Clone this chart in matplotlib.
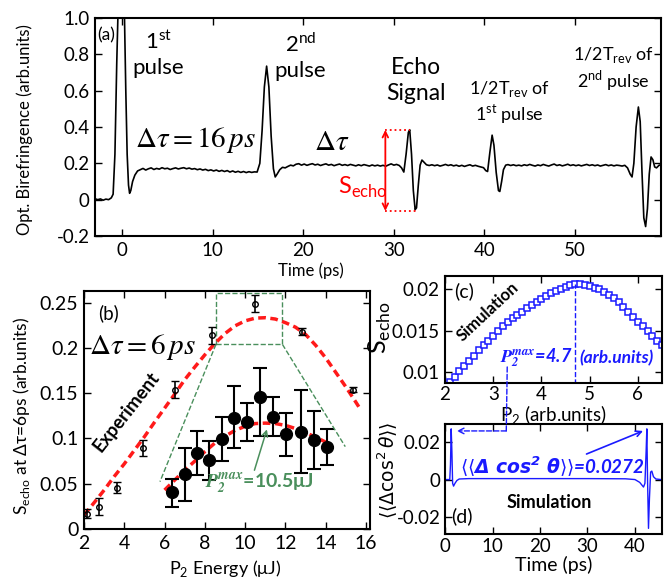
import matplotlib
matplotlib.use("Agg")
import matplotlib.pyplot as plt
from matplotlib.patches import Rectangle, ConnectionPatch

plt.rcParams['font.family'] = ['Lato', 'DejaVu Sans']
plt.rcParams['axes.linewidth'] = 1.5

# ---- panel (a): optical birefringence trace ----
t_a = [-3.0, -2.7, -2.4, -2.1, -1.8, -1.5, -1.2,
       -1.0, -0.8, -0.6, -0.45, -0.2, 0.0, 0.25, 0.4, 0.55, 0.7, 0.82, 0.95, 1.15, 1.4, 1.7, 2.0,
       2.3, 2.6, 2.9, 3.2, 3.5, 3.8, 4.1, 4.4, 4.7, 5.0, 5.3, 5.6, 5.9, 6.2, 6.5, 6.8, 7.1, 7.4,
       7.7, 8.0, 8.3, 8.6, 8.9, 9.2, 9.5, 9.8, 10.1, 10.4, 10.7, 11.0, 11.3, 11.6, 11.9, 12.2,
       12.5, 12.8, 13.1, 13.4, 13.7, 14.0, 14.3, 14.6, 14.9,
       15.2, 15.45, 15.7, 15.95, 16.2, 16.45, 16.7, 16.9, 17.1, 17.4, 17.7, 18.0,
       18.3, 18.6, 18.9, 19.2, 19.5, 19.8, 20.1, 20.4, 20.7, 21.0, 21.3, 21.6, 21.9, 22.2, 22.5,
       22.8, 23.1, 23.4, 23.7, 24.0, 24.3, 24.6, 24.9, 25.2, 25.5, 25.8, 26.1, 26.4, 26.7, 27.0,
       27.3, 27.6, 27.9, 28.2, 28.5, 28.8, 29.1, 29.4, 29.7, 30.0, 30.3, 30.6,
       30.85, 31.1, 31.35, 31.6, 31.75, 31.95, 32.15, 32.35, 32.5, 32.7, 32.9, 33.1, 33.35, 33.6, 33.9,
       34.2, 34.5, 34.8, 35.1, 35.4, 35.7, 36.0, 36.3, 36.6, 36.9, 37.2, 37.5, 37.8, 38.1, 38.4,
       38.7, 39.0, 39.3, 39.6, 39.9,
       40.15, 40.35, 40.6, 40.85, 41.05, 41.3, 41.55, 41.7, 41.9, 42.1, 42.35, 42.6,
       42.9, 43.2, 43.5, 43.8, 44.1, 44.4, 44.7, 45.0, 45.3, 45.6, 45.9, 46.2, 46.5, 46.8, 47.1,
       47.4, 47.7, 48.0, 48.3, 48.6, 48.9, 49.2, 49.5, 49.8, 50.1, 50.4, 50.7, 51.0, 51.3, 51.6,
       51.9, 52.2, 52.5, 52.8, 53.1, 53.4, 53.7, 54.0, 54.3, 54.6, 54.9, 55.2, 55.5, 55.8,
       56.1, 56.3, 56.5, 56.75, 57.0, 57.2, 57.4, 57.6, 57.8, 58.0, 58.2, 58.4, 58.6, 58.8, 59.0,
       59.3, 59.6]
v_a = [0.005, 0.000, 0.004, -0.003, 0.003, 0.000, 0.010,
       0.03, 0.25, 0.75, 1.05, 1.35, 1.35, 1.02, 0.6, 0.25, 0.08, 0.035, 0.05, 0.10, 0.135, 0.158, 0.165,
       0.172, 0.163, 0.170, 0.175, 0.166, 0.172, 0.168, 0.176, 0.170, 0.173, 0.166, 0.171, 0.175, 0.169,
       0.173, 0.176, 0.170, 0.174, 0.168, 0.171, 0.165, 0.169, 0.163, 0.167, 0.160, 0.164, 0.158, 0.163,
       0.156, 0.161, 0.155, 0.160, 0.152, 0.158, 0.151, 0.156, 0.150, 0.155, 0.149, 0.154, 0.150, 0.153,
       0.152,
       0.20, 0.38, 0.62, 0.735, 0.62, 0.35, 0.17, 0.125, 0.14, 0.165, 0.178, 0.175,
       0.183, 0.190, 0.186, 0.195, 0.198, 0.190, 0.196, 0.189, 0.194, 0.198, 0.191, 0.195, 0.188, 0.193,
       0.197, 0.190, 0.194, 0.187, 0.192, 0.196, 0.189, 0.193, 0.188, 0.194, 0.190, 0.186, 0.192, 0.187,
       0.193, 0.189, 0.185, 0.191, 0.186, 0.190, 0.185, 0.189, 0.184, 0.191, 0.197, 0.190, 0.194, 0.188,
       0.175, 0.152, 0.25, 0.37, 0.385, 0.25, 0.05, -0.055, -0.045, 0.08, 0.19, 0.218, 0.205, 0.192, 0.188,
       0.192, 0.187, 0.191, 0.185, 0.189, 0.194, 0.188, 0.192, 0.186, 0.190, 0.184, 0.189, 0.183, 0.188,
       0.192, 0.185, 0.189, 0.184, 0.180, 0.176,
       0.16, 0.155, 0.26, 0.355, 0.30, 0.15, 0.05, 0.045, 0.10, 0.165, 0.19, 0.193,
       0.188, 0.192, 0.187, 0.190, 0.186, 0.192, 0.188, 0.194, 0.189, 0.185, 0.191, 0.187, 0.194, 0.189,
       0.185, 0.191, 0.196, 0.188, 0.192, 0.186, 0.190, 0.195, 0.188, 0.192, 0.187, 0.191, 0.186, 0.190,
       0.194, 0.188, 0.192, 0.187, 0.191, 0.185, 0.189, 0.193, 0.187, 0.191, 0.186, 0.190, 0.188, 0.185,
       0.189, 0.175,
       0.14, 0.125, 0.20, 0.40, 0.51, 0.43, 0.15, -0.10, -0.148, -0.05, 0.14, 0.235, 0.22, 0.18, 0.175,
       0.19, 0.19]

# ---- panel (b): echo amplitude vs P2 energy ----
E_open = [2.17, 2.73, 3.63, 4.92, 6.5, 8.35, 10.5, 12.83, 15.33]
S_open = [0.0166, 0.0247, 0.0457, 0.0892, 0.154, 0.2139, 0.249, 0.218, 0.154]
S_open_err = [0.005, 0.009, 0.006, 0.0087, 0.0096, 0.009, 0.0096, 0.004, 0.003]
E_fit = [2.0, 2.5, 3.0, 3.5, 4.0, 4.5, 5.0, 5.5, 6.0, 6.5, 7.0, 7.5, 8.0, 8.5, 9.0, 9.5, 10.0,
         10.5, 11.0, 11.5, 12.0, 12.5, 13.0, 13.5, 14.0, 14.5, 15.0, 15.5, 15.7]
S_fit = [0.0155, 0.029, 0.043, 0.058, 0.072, 0.087, 0.102, 0.118, 0.1335, 0.149, 0.165, 0.179,
         0.1925, 0.205, 0.216, 0.2245, 0.230, 0.233, 0.2335, 0.232, 0.228, 0.223, 0.215, 0.203,
         0.189, 0.173, 0.157, 0.140, 0.133]
# zoomed view (drawn inside the same axes)
E_zoom = [6.38, 7.0, 7.6, 8.22, 8.83, 9.47, 10.1, 10.72, 11.38, 12.05, 12.75, 13.42, 14.08]
S_zoom = [0.0413, 0.0605, 0.0844, 0.0763, 0.0992, 0.1232, 0.118, 0.1464, 0.1236, 0.1048, 0.107,
          0.0984, 0.0904]
S_zoom_lo = [0.024, 0.0313, 0.0597, 0.0542, 0.0756, 0.0892, 0.0977, 0.1029, 0.1029, 0.0811,
             0.0623, 0.0664, 0.0708]
S_zoom_hi = [0.055, 0.0892, 0.1087, 0.0977, 0.1236, 0.1575, 0.139, 0.1778, 0.1457, 0.1287,
             0.1538, 0.1309, 0.1103]
E_zfit = [6.0, 6.5, 7.0, 7.5, 8.0, 8.5, 9.0, 9.5, 10.0, 10.5, 11.0, 11.5, 12.0, 12.5, 13.0,
          13.5, 14.0, 14.2]
S_zfit = [0.043, 0.054, 0.065, 0.075, 0.0855, 0.095, 0.1025, 0.109, 0.1135, 0.1165, 0.117,
          0.1165, 0.1145, 0.111, 0.1065, 0.1015, 0.096, 0.094]

# ---- panel (c): simulated echo vs P2 ----
P2_sim = [2.1, 2.2, 2.3, 2.4, 2.5, 2.6, 2.7, 2.8, 2.9, 3.0, 3.1, 3.2, 3.3, 3.4, 3.5, 3.6, 3.7,
          3.8, 3.9, 4.0, 4.1, 4.2, 4.3, 4.4, 4.5, 4.6, 4.7, 4.8, 4.9, 5.0, 5.1, 5.2, 5.3, 5.4,
          5.5, 5.6, 5.7, 5.8, 5.9, 6.0, 6.1, 6.2, 6.3, 6.4, 6.5]
S_sim = [0.0088, 0.0094, 0.0101, 0.0107, 0.0113, 0.0119, 0.0126, 0.0132, 0.0138, 0.0144, 0.0149,
         0.0155, 0.0160, 0.0165, 0.0169, 0.0173, 0.0177, 0.0181, 0.0185, 0.0188, 0.0192, 0.0195,
         0.0198, 0.0200, 0.0203, 0.0205, 0.0206, 0.0206, 0.0205, 0.0204, 0.0202, 0.0200, 0.0197,
         0.0193, 0.0189, 0.0184, 0.0179, 0.0173, 0.0167, 0.0161, 0.0155, 0.0150, 0.0144, 0.0138,
         0.0133]
P2_max = 4.7

# ---- panel (d): simulated alignment ----
t_d = [0.0, 1.0, 1.15, 1.3, 1.45, 1.6, 1.8, 2.1, 2.5, 3.0, 5.0, 10.0, 20.0, 30.0, 38.0, 40.0,
       41.0, 41.8, 42.1, 42.35, 42.5, 42.65, 42.85, 43.05, 43.3, 43.55, 43.9, 44.4, 45.5]
c_d = [0.0, 0.0, 0.008, 0.027, 0.015, -0.002, -0.0035, -0.002, -0.0005, 0.0003, 0.0005, 0.0005,
       0.0005, 0.0005, 0.0004, 0.0, -0.0015, -0.004, -0.002, 0.015, 0.027, 0.0, -0.026, -0.01,
       0.004, 0.0045, 0.0015, 0.0003, 0.0]

red = '#ff1a1a'
green = '#4a8f5c'
blue = '#1a1aff'


def box(ax):
    ax.tick_params(direction='in', top=True, right=True, length=5, width=1, pad=4)


fig = plt.figure(figsize=(6.7, 5.82), dpi=100)
ax_a = fig.add_axes([0.1418, 0.5945, 0.8448, 0.3746])
ax_b = fig.add_axes([0.1254, 0.0911, 0.4269, 0.4089])
ax_c = fig.add_axes([0.6642, 0.3419, 0.3239, 0.1838])
ax_d = fig.add_axes([0.6642, 0.0825, 0.3239, 0.189])

# (a)
ax_a.plot(t_a, v_a, color='k', lw=1.2)
ax_a.set_xlim(-3, 59.5)
ax_a.set_ylim(-0.2, 1.0)
ax_a.set_xticks([0, 10, 20, 30, 40, 50])
ax_a.set_yticks([-0.2, 0, 0.2, 0.4, 0.6, 0.8, 1.0])
ax_a.set_yticklabels(['-0.2', '0', '0.2', '0.4', '0.6', '0.8', '1.0'])
box(ax_a)
ax_a.tick_params(labelsize=13.5)
ax_a.set_xlabel('Time (ps)', fontsize=12, va='center')
ax_a.xaxis.set_label_coords(0.382, -0.16)
ax_a.set_ylabel('Opt. Birefringence (arb.units)', fontsize=12, va='center')
ax_a.yaxis.set_label_coords(-0.124, 0.49)
ax_a.text(-2.8, 0.905, '(a)', fontsize=12.5, va='center')
ax_a.text(4.0, 0.8, '1$^{\\mathregular{st}}$\npulse', fontsize=16, ha='center', va='center',
          linespacing=1.3)
ax_a.text(19.7, 0.785, '2$^{\\mathregular{nd}}$\npulse', fontsize=16, ha='center', va='center',
          linespacing=1.3)
ax_a.text(32.4, 0.655, 'Echo\nSignal', fontsize=16.5, ha='center', va='center', linespacing=1.3)
ax_a.text(42.8, 0.535, '1/2T$_{\\mathregular{rev}}$ of\n1$^{\\mathregular{st}}$ pulse', fontsize=13,
          ha='center', va='center', linespacing=1.2)
ax_a.text(54.2, 0.72, '1/2T$_{\\mathregular{rev}}$ of\n2$^{\\mathregular{nd}}$ pulse', fontsize=13,
          ha='center', va='center', linespacing=1.2)
ax_a.text(8.1, 0.33, r'$\Delta\tau = 16\,ps$', fontsize=21, ha='center', va='center',
          math_fontfamily='stix')
ax_a.text(23.1, 0.315, r'$\Delta\tau$', fontsize=21, ha='center', va='center', math_fontfamily='stix')
ax_a.annotate('', xy=(29.06, 0.384), xytext=(29.06, -0.062),
              arrowprops=dict(arrowstyle='<->', color='red', lw=1.3, shrinkA=0, shrinkB=0))
ax_a.plot([29.06, 31.8], [0.384, 0.384], color='red', ls=':', lw=1.3)
ax_a.plot([29.06, 32.5], [-0.062, -0.062], color='red', ls=':', lw=1.3)
ax_a.text(23.8, 0.07, 'S$_{\\mathregular{echo}}$', color='red', fontsize=17, va='center')

# (b)
ax_b.plot(E_fit, S_fit, color=red, lw=2.5, dashes=(2.2, 1.3))
ax_b.errorbar(E_open, S_open, yerr=S_open_err, fmt='o', ms=4, mfc='none', mec='k', mew=1,
              ecolor='k', elinewidth=1.2, capsize=3, capthick=1.2)
ax_b.plot(E_zfit, S_zfit, color=red, lw=2.5, dashes=(2.2, 1.3))
zoom_err = [[s - lo for s, lo in zip(S_zoom, S_zoom_lo)], [hi - s for s, hi in zip(S_zoom, S_zoom_hi)]]
ax_b.errorbar(E_zoom, S_zoom, yerr=zoom_err, fmt='o', ms=8.5, color='k', ecolor='k',
              elinewidth=1.5, capsize=5, capthick=1.5)
ax_b.add_patch(Rectangle((8.55, 0.204), 3.3, 0.057, fill=False, ec=green, lw=1, ls='--'))
ax_b.plot([8.55, 5.77], [0.204, 0.0523], color=green, lw=1, ls='--')
ax_b.plot([11.85, 14.97], [0.204, 0.091], color=green, lw=1, ls='--')
ax_b.set_xlim(2, 16.2)
ax_b.set_ylim(0, 0.263)
ax_b.set_xticks([2, 4, 6, 8, 10, 12, 14, 16])
ax_b.set_yticks([0, 0.05, 0.1, 0.15, 0.2, 0.25])
ax_b.set_yticklabels(['0', '0.05', '0.1', '0.15', '0.2', '0.25'])
box(ax_b)
ax_b.tick_params(labelsize=14)
ax_b.set_xlabel('P$_{\\mathregular{2}}$ Energy (μJ)', fontsize=13, va='center')
ax_b.xaxis.set_label_coords(0.493, -0.165)
ax_b.set_ylabel('S$_{\\mathregular{echo}}$ at Δτ=6ps (arb.units)', fontsize=12.5, va='center')
ax_b.yaxis.set_label_coords(-0.22, 0.475)
ax_b.text(3.2, 0.239, '(b)', fontsize=13.5, ha='center', va='center')
ax_b.text(4.9, 0.201, r'$\Delta\tau = 6\,ps$', fontsize=21, ha='center', va='center',
          math_fontfamily='stix')
ax_b.text(4.13, 0.13, 'Experiment', fontsize=13.5, fontweight='bold', rotation=52,
          ha='center', va='center')
ax_b.annotate('', xy=(11.12, 0.113), xytext=(10.42, 0.062),
              arrowprops=dict(arrowstyle='->', color=green, lw=1.1))
ax_b.text(10.7, 0.051, r'$\mathbfit{P_2^{max}}$=10.5μJ', color=green, fontsize=14,
          fontweight='bold', ha='center', va='center', math_fontfamily='stix')

# (c)
ax_c.plot(P2_sim, S_sim, ls='none', marker='s', ms=4, mfc='white', mec=blue, mew=1.1)
ax_c.plot([P2_max, P2_max], [0.0086, S_sim[P2_sim.index(P2_max)]], color=blue, ls='--', lw=1)
ax_c.set_xlim(2, 6.5)
ax_c.set_ylim(0.00866, 0.0216)
ax_c.set_xticks([2, 3, 4, 5, 6])
ax_c.set_yticks([0.01, 0.015, 0.02])
ax_c.set_yticklabels(['0.01', '0.015', '0.02'])
box(ax_c)
ax_c.tick_params(axis='x', labelsize=13.5, pad=2)
ax_c.tick_params(axis='y', labelsize=13.5)
ax_c.set_xlabel('P$_{\\mathregular{2}}$ (arb.units)', fontsize=13.5, va='center')
ax_c.xaxis.set_label_coords(0.498, -0.3)
ax_c.set_ylabel('S$_{\\mathregular{echo}}$', fontsize=18, va='center')
ax_c.yaxis.set_label_coords(-0.3, 0.52)
ax_c.text(2.4, 0.0198, '(c)', fontsize=14, ha='center', va='center')
ax_c.text(2.88, 0.0173, 'Simulation', fontsize=12, fontweight='bold', rotation=43,
          ha='center', va='center')
ax_c.text(3.15, 0.0117, r'$\mathbfit{P_2^{max}}$=4.7', color=blue, fontsize=13,
          fontweight='bold', style='italic', va='center', math_fontfamily='stix')
ax_c.text(4.78, 0.0117, '(arb.units)', color=blue, fontsize=12.5, fontweight='bold',
          style='italic', va='center')

# (d)
ax_d.plot(t_d, c_d, color=blue, lw=1)
ax_d.set_xlim(0, 45.7)
ax_d.set_ylim(-0.029, 0.0296)
ax_d.set_xticks([0, 10, 20, 30, 40])
ax_d.set_yticks([-0.02, 0, 0.02])
ax_d.set_yticklabels(['-0.02', '0', '0.02'])
box(ax_d)
ax_d.tick_params(labelsize=13.5, pad=3)
ax_d.set_xlabel('Time (ps)', fontsize=14, va='center')
ax_d.xaxis.set_label_coords(0.5, -0.28)
ax_d.set_ylabel(r'$\langle\langle\Delta\cos^2\theta\rangle\rangle$', fontsize=13.5, va='center')
ax_d.yaxis.set_label_coords(-0.265, 0.58)
ax_d.text(3.5, -0.0197, '(d)', fontsize=14, ha='center', va='center')
ax_d.text(22.6, 0.0067, r'$\langle\langle\mathbfit{\Delta\ cos^2\ \theta}\rangle\rangle$=0.0272',
          color=blue, fontsize=13.5, fontweight='bold', style='italic', ha='center', va='center')
ax_d.text(22.0, -0.012, 'Simulation', fontsize=13, fontweight='bold', ha='center', va='center')
ax_d.annotate('', xy=(41.7, 0.0259), xytext=(29.8, 0.0136),
              arrowprops=dict(arrowstyle='->', color=blue, lw=1.2, shrinkA=0, shrinkB=0))
ax_d.annotate('', xy=(2.5, 0.0259), xytext=(12.9, 0.0259),
              arrowprops=dict(arrowstyle='->', color=blue, lw=1, ls='--', shrinkA=0, shrinkB=0))
con = ConnectionPatch(xyA=(3.29, 0.0106), coordsA=ax_c.transData,
                      xyB=(12.9, 0.0259), coordsB=ax_d.transData,
                      color=blue, lw=1, ls='--')
fig.add_artist(con)

plt.savefig('out.png', dpi=100)
plt.close()
